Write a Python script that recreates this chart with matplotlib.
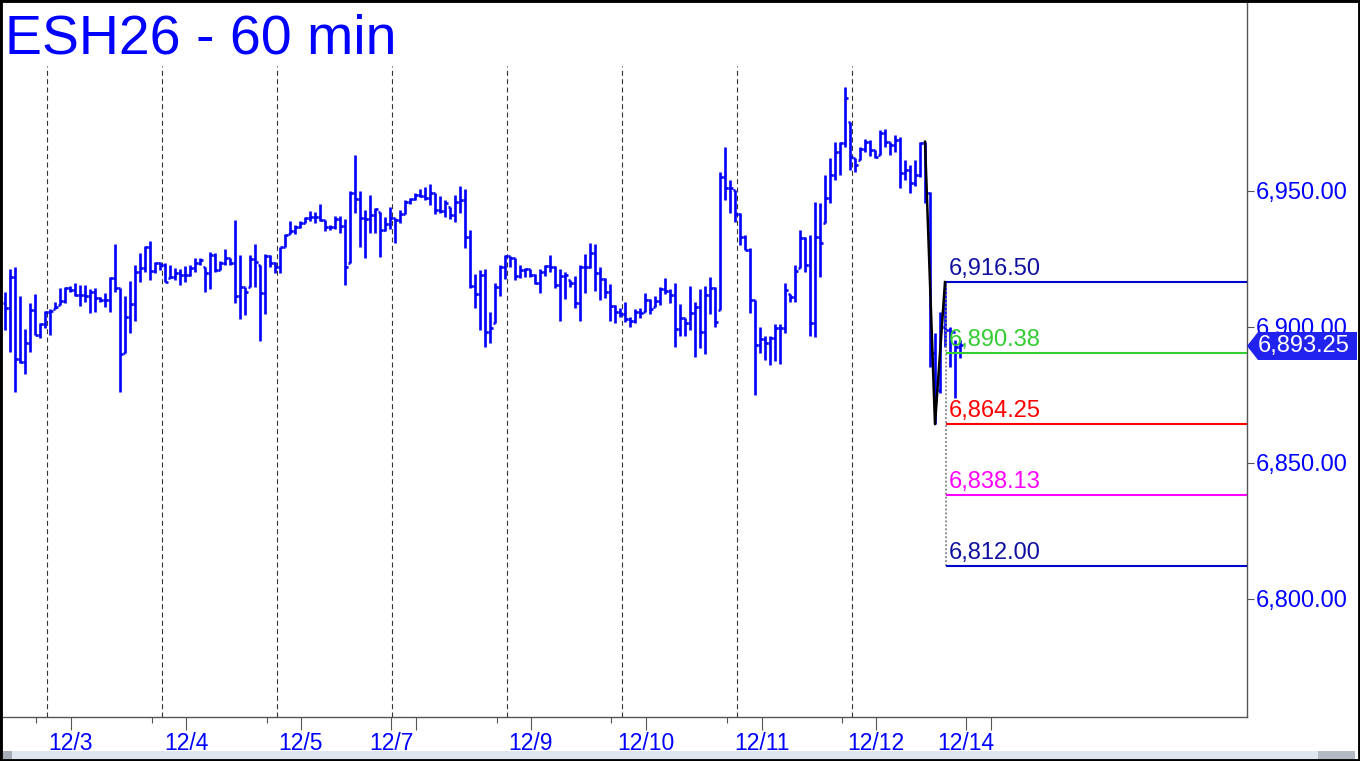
import matplotlib
matplotlib.use("Agg")
import matplotlib.pyplot as plt
from matplotlib.patches import Rectangle, Polygon
import numpy as np

plt.rcParams['font.family'] = ['Liberation Sans', 'DejaVu Sans']

title = "ESH26 - 60 min"

highs = [
 6913.0, 6921.3, 6922.2, 6911.2, 6899.3, 6908.9, 6912.1, 6901.3, 6905.9, 6906.5,
 6909.3, 6914.2, 6914.8, 6915.1, 6916.1, 6915.4, 6915.4, 6913.8, 6914.2, 6910.9,
 6912.4, 6918.5, 6930.5, 6914.2, 6911.5, 6916.9, 6922.8, 6927.1, 6929.8, 6931.7,
 6924.0, 6924.0, 6923.4, 6922.8, 6921.6, 6921.2, 6922.4, 6922.8, 6925.2, 6925.2,
 6922.2, 6927.7, 6927.1, 6924.3, 6928.7, 6925.2, 6939.3, 6926.5, 6914.8, 6926.5,
 6930.5, 6922.8, 6926.8, 6926.5, 6924.0, 6929.5, 6934.2, 6939.1, 6937.5, 6939.1,
 6940.6, 6942.8, 6942.4, 6945.2, 6939.3, 6937.5, 6940.8, 6940.8, 6939.6, 6949.8,
 6963.2, 6949.8, 6943.0, 6948.5, 6943.6, 6942.4, 6940.3, 6944.0, 6940.0, 6943.0,
 6946.5, 6947.3, 6949.4, 6950.6, 6951.4, 6952.6, 6949.4, 6948.2, 6946.7, 6944.2,
 6948.5, 6951.8, 6950.6, 6935.7, 6919.5, 6921.0, 6921.2, 6905.6, 6916.3, 6922.8,
 6926.5, 6926.1, 6925.2, 6922.8, 6921.6, 6921.2, 6919.5, 6921.2, 6922.8, 6926.5,
 6922.4, 6921.2, 6920.3, 6917.3, 6918.7, 6922.8, 6926.8, 6930.8, 6930.5, 6922.2,
 6917.9, 6915.8, 6908.1, 6906.9, 6909.3, 6903.8, 6906.5, 6906.9, 6912.6, 6910.2,
 6911.2, 6914.6, 6917.9, 6913.9, 6916.1, 6908.5, 6903.2, 6915.1, 6909.3, 6913.9,
 6915.1, 6918.3, 6914.8, 6957.1, 6966.3, 6954.0, 6950.4, 6941.8, 6933.8, 6928.9,
 6909.9, 6899.9, 6896.7, 6896.7, 6901.1, 6901.1, 6916.3, 6912.1, 6922.8, 6935.7,
 6933.0, 6933.8, 6946.1, 6945.5, 6955.9, 6962.0, 6968.1, 6968.1, 6988.4, 6975.5,
 6962.0, 6966.3, 6969.0, 6968.8, 6965.1, 6972.4, 6972.7, 6968.1, 6970.6, 6970.0,
 6961.4, 6959.6, 6961.4, 6968.1, 6968.1, 6949.7, 6897.8, 6905.6, 6916.5, 6900.1,
 6895.2, 6895.2]

lows = [
 6898.9, 6890.9, 6876.2, 6886.6, 6882.7, 6890.9, 6897.1, 6895.8, 6899.5, 6897.1,
 6906.5, 6908.1, 6908.7, 6913.0, 6911.2, 6907.7, 6909.3, 6905.0, 6905.6, 6909.3,
 6907.2, 6905.6, 6913.0, 6876.2, 6890.3, 6897.7, 6902.3, 6916.7, 6920.3, 6917.3,
 6919.7, 6921.0, 6916.7, 6917.9, 6917.3, 6915.4, 6916.7, 6918.7, 6920.3, 6922.8,
 6913.0, 6913.8, 6920.3, 6921.0, 6922.8, 6922.8, 6908.7, 6902.8, 6904.4, 6914.6,
 6914.8, 6895.0, 6904.8, 6921.9, 6920.0, 6919.7, 6929.3, 6934.2, 6934.2, 6936.3,
 6938.1, 6939.1, 6938.4, 6939.1, 6935.4, 6935.7, 6935.9, 6934.4, 6915.4, 6923.4,
 6942.0, 6929.3, 6925.3, 6934.4, 6934.7, 6925.6, 6935.4, 6935.9, 6931.0, 6938.1,
 6941.5, 6945.2, 6946.5, 6947.7, 6946.5, 6944.9, 6941.5, 6942.0, 6940.3, 6939.6,
 6938.7, 6942.0, 6928.9, 6914.2, 6906.9, 6898.9, 6892.8, 6894.0, 6901.3, 6911.2,
 6917.5, 6921.9, 6917.3, 6917.9, 6918.5, 6918.3, 6915.8, 6912.6, 6918.7, 6920.3,
 6914.2, 6902.3, 6910.2, 6914.8, 6906.9, 6902.3, 6912.6, 6921.6, 6913.4, 6909.9,
 6910.5, 6902.3, 6901.6, 6903.8, 6902.0, 6900.1, 6901.6, 6903.2, 6905.6, 6904.8,
 6907.5, 6908.1, 6912.1, 6908.7, 6892.5, 6896.7, 6896.7, 6898.7, 6888.9, 6892.2,
 6890.1, 6904.8, 6899.9, 6906.3, 6946.7, 6941.8, 6938.7, 6930.1, 6928.3, 6905.0,
 6875.0, 6890.3, 6887.9, 6886.0, 6887.3, 6886.4, 6897.7, 6909.3, 6909.0, 6921.6,
 6920.3, 6896.5, 6896.2, 6918.5, 6938.1, 6945.5, 6954.0, 6955.9, 6966.3, 6957.7,
 6957.1, 6961.4, 6964.5, 6962.9, 6962.0, 6963.2, 6966.3, 6963.2, 6964.5, 6951.0,
 6954.0, 6949.1, 6951.8, 6955.3, 6945.5, 6885.4, 6864.25, 6875.6, 6892.8, 6885.4,
 6873.9, 6888.6]

opens = [
 6908.7, 6906.9, 6918.5, 6888.1, 6887.1, 6894.2, 6906.3, 6897.1, 6901.1, 6905.6,
 6906.5, 6908.1, 6909.7, 6914.2, 6913.6, 6911.8, 6911.8, 6911.2, 6913.0, 6910.5,
 6909.9, 6909.9, 6917.9, 6914.2, 6890.3, 6903.8, 6908.5, 6920.3, 6921.6, 6929.3,
 6920.7, 6923.4, 6922.8, 6917.9, 6918.5, 6920.0, 6919.1, 6919.1, 6921.6, 6923.6,
 6922.2, 6920.0, 6926.5, 6921.0, 6923.4, 6925.2, 6923.6, 6911.2, 6914.8, 6914.6,
 6924.9, 6922.8, 6912.4, 6926.1, 6923.4, 6922.2, 6929.3, 6934.2, 6935.1, 6936.9,
 6938.4, 6940.0, 6940.3, 6940.3, 6939.3, 6936.9, 6936.9, 6939.6, 6937.1, 6923.4,
 6949.4, 6946.9, 6940.0, 6939.6, 6941.2, 6942.4, 6935.7, 6937.9, 6940.0, 6939.3,
 6941.5, 6946.1, 6946.9, 6948.5, 6948.2, 6947.3, 6949.4, 6943.0, 6942.8, 6944.2,
 6941.2, 6946.1, 6946.5, 6933.0, 6915.1, 6912.1, 6919.1, 6898.3, 6901.3, 6914.8,
 6921.9, 6926.1, 6925.2, 6918.7, 6921.0, 6921.2, 6919.1, 6916.1, 6920.3, 6922.4,
 6922.2, 6915.4, 6918.7, 6917.3, 6916.3, 6908.7, 6921.9, 6922.2, 6927.1, 6919.7,
 6917.5, 6913.0, 6907.7, 6905.6, 6904.7, 6902.8, 6902.3, 6905.6, 6905.6, 6909.9,
 6907.5, 6909.7, 6913.9, 6913.4, 6911.8, 6899.2, 6903.2, 6901.6, 6905.3, 6907.5,
 6898.3, 6911.8, 6914.2, 6906.3, 6955.0, 6951.0, 6950.4, 6941.5, 6933.2, 6928.3,
 6909.9, 6893.4, 6895.5, 6894.2, 6895.8, 6899.5, 6899.5, 6912.1, 6911.1, 6921.6,
 6932.6, 6922.8, 6901.4, 6933.0, 6938.1, 6947.3, 6955.9, 6964.5, 6967.5, 6975.5,
 6962.0, 6961.4, 6965.3, 6968.1, 6965.1, 6963.2, 6971.2, 6968.1, 6966.9, 6968.8,
 6956.5, 6957.7, 6952.8, 6955.9, 6967.5, 6949.1, 6890.3, 6877.0, 6900.0, 6899.0,
 6898.3, 6892.8]

closes = [
 6906.9, 6918.5, 6888.1, 6887.1, 6894.2, 6906.3, 6897.1, 6901.1, 6905.6, 6905.9,
 6907.5, 6909.7, 6914.2, 6913.6, 6911.8, 6911.8, 6911.2, 6913.0, 6910.5, 6909.9,
 6909.9, 6917.9, 6914.2, 6890.1, 6903.8, 6908.5, 6920.3, 6921.6, 6929.3, 6920.7,
 6923.4, 6922.8, 6916.7, 6918.5, 6920.0, 6919.1, 6919.1, 6921.6, 6923.6, 6924.6,
 6920.0, 6926.5, 6921.0, 6923.4, 6925.2, 6923.6, 6911.2, 6914.8, 6913.0, 6924.9,
 6923.7, 6912.4, 6926.1, 6923.4, 6922.2, 6929.3, 6933.8, 6935.1, 6936.9, 6938.4,
 6940.0, 6940.3, 6940.3, 6939.3, 6936.9, 6936.9, 6939.6, 6937.1, 6922.2, 6949.4,
 6946.9, 6940.0, 6939.6, 6941.2, 6943.3, 6935.7, 6937.9, 6940.0, 6939.3, 6941.5,
 6946.1, 6946.9, 6948.5, 6948.2, 6947.3, 6949.4, 6943.0, 6942.8, 6945.7, 6941.2,
 6946.1, 6946.5, 6933.0, 6915.1, 6912.1, 6919.1, 6898.3, 6899.5, 6914.8, 6921.9,
 6926.1, 6925.2, 6918.7, 6921.0, 6921.2, 6919.1, 6916.1, 6920.3, 6922.4, 6922.2,
 6915.4, 6918.7, 6919.1, 6916.3, 6908.7, 6921.9, 6922.2, 6927.1, 6919.7, 6917.5,
 6913.0, 6907.7, 6905.6, 6904.7, 6902.8, 6902.3, 6905.6, 6905.3, 6909.9, 6906.5,
 6909.7, 6913.9, 6913.4, 6911.8, 6899.2, 6903.2, 6901.6, 6905.3, 6907.5, 6898.3,
 6911.8, 6914.2, 6902.0, 6955.0, 6951.0, 6951.0, 6941.5, 6933.2, 6928.3, 6909.9,
 6893.4, 6895.5, 6894.2, 6895.8, 6899.5, 6899.5, 6913.6, 6911.1, 6920.7, 6932.6,
 6922.8, 6901.4, 6933.0, 6930.8, 6947.3, 6955.9, 6964.5, 6967.5, 6984.1, 6962.6,
 6959.6, 6965.3, 6968.1, 6965.1, 6962.6, 6971.2, 6968.1, 6966.9, 6968.8, 6956.5,
 6957.7, 6952.8, 6955.9, 6967.5, 6949.1, 6890.3, 6877.0, 6900.0, 6899.0, 6898.3,
 6892.8, 6893.25]

# zigzag pivots (bar index, price)
zig_bars = [184, 186, 188]
zig_prices = [6968.1, 6864.25, 6916.5]

# target levels
levels = [6916.50, 6890.38, 6864.25, 6838.13, 6812.00]
level_labels = ["6,916.50", "6,890.38", "6,864.25", "6,838.13", "6,812.00"]
level_line_colors = ["#0000cc", "#33cc33", "#ff0000", "#ff00ff", "#0000cc"]
level_text_colors = ["#1010a0", "#33cc33", "#ff0000", "#ff00ff", "#1010a0"]

last_price = 6893.25
yticks = [6800, 6850, 6900, 6950]
ytick_labels = ["6,800.00", "6,850.00", "6,900.00", "6,950.00"]

date_labels = ["12/3", "12/4", "12/5", "12/7", "12/9", "12/10", "12/11", "12/12", "12/14"]

# ---- layout ----
W, H = 1360, 761
fig = plt.figure(figsize=(W / 100, H / 100), dpi=100)
fig.patch.set_facecolor("white")
ax = fig.add_axes([3 / W, 44 / H, 1244 / W, 714 / H])
ax.set_facecolor("white")

n = len(highs)
x = np.arange(n)
bar_col = "#0000ff"
ax.vlines(x, lows, highs, colors=bar_col, lw=1.9, zorder=3)
ax.hlines(opens, x - 0.5, x, colors=bar_col, lw=1.9, zorder=3)
ax.hlines(closes, x, x + 0.5, colors=bar_col, lw=1.9, zorder=3)

ax.set_xlim(-0.4, 248.4)
ax.set_ylim(6756.6, 7019.1)

# day separators
for k in range(8):
    ax.axvline(8.3 + 23 * k, ymin=0, ymax=0.912, color="#333333", lw=0.8,
               linestyle=(0, (4.5, 3)), zorder=1)

# zigzag
ax.plot(zig_bars, zig_prices, color="black", lw=1.8, zorder=5)

# levels
start = 188.2
ax.vlines(start, levels[-1], levels[0], colors="#808080", lw=1.3,
          linestyles=(0, (1, 1.2)), zorder=4)
for lv, lab, lc, tc in zip(levels, level_labels, level_line_colors, level_text_colors):
    ax.hlines(lv, start, 248.4, colors=lc, lw=1.5, zorder=4)
    ax.annotate(lab, xy=(start + 0.5, lv), xytext=(0, 5), textcoords="offset points",
                ha="left", va="baseline", color=tc, fontsize=17, zorder=6)

# axes styling
for s in ["top", "left"]:
    ax.spines[s].set_visible(False)
for s in ["right", "bottom"]:
    ax.spines[s].set_color("#555555")
    ax.spines[s].set_linewidth(1)

ax.yaxis.tick_right()
ax.set_yticks(yticks)
ax.set_yticklabels(ytick_labels)
ax.tick_params(axis="y", direction="out", length=5, width=0.8, color="#555555",
               labelsize=17, labelcolor="#0000ff", pad=1.5)

label_pos = [13.2, 36.2, 59.2, 77.2, 105.2, 128.2, 151.4, 174.2, 192.2]
extra_long = [82.2, 197.2]
short_ticks = [6.2, 29.4, 52.4, 98.4, 121.2, 144.4, 167.4]
ax.set_xticks(label_pos + extra_long)
ax.set_xticklabels(date_labels + ["", ""])
ax.set_xticks(short_ticks, minor=True)
ax.tick_params(axis="x", which="major", direction="out", length=9, width=0.8,
               color="#555555", labelsize=16.5, labelcolor="#0000ff", pad=1.5)
ax.tick_params(axis="x", which="minor", direction="out", length=4.5, width=0.8,
               color="#555555")

# title
fig.text(5 / W, 1 - 53 / H, title, fontsize=40, color="#0000ff", va="baseline", ha="left")

# current price marker
ypx = 346
pts = [(1247, ypx), (1258, ypx - 14), (1357, ypx - 14), (1357, ypx + 14), (1258, ypx + 14)]
fig.patches.append(Polygon([(px / W, 1 - py / H) for px, py in pts], closed=True,
                           transform=fig.transFigure, facecolor="#2222ee", edgecolor="none",
                           zorder=5))
fig.text(1304 / W, 1 - ypx / H, f"{last_price:,.2f}", color="white", fontsize=17,
         ha="center", va="center", zorder=6)

# scrollbar
fig.patches.append(Rectangle((3 / W, 2 / H), 1352 / W, 8 / H, transform=fig.transFigure,
                             facecolor="#dfe6ee", edgecolor="none", zorder=2))
fig.patches.append(Rectangle((3 / W, 2 / H), 9 / W, 8 / H, transform=fig.transFigure,
                             facecolor="#a6aeb8", edgecolor="none", zorder=2))
fig.patches.append(Rectangle((1318 / W, 2 / H), 37 / W, 8 / H, transform=fig.transFigure,
                             facecolor="#b4bac4", edgecolor="none", zorder=2))

# outer border
fig.patches.append(Rectangle((0, 0), 1, 1, transform=fig.transFigure, fill=False,
                             edgecolor="black", lw=3.5, zorder=10))

fig.savefig("out.png", dpi=100)
